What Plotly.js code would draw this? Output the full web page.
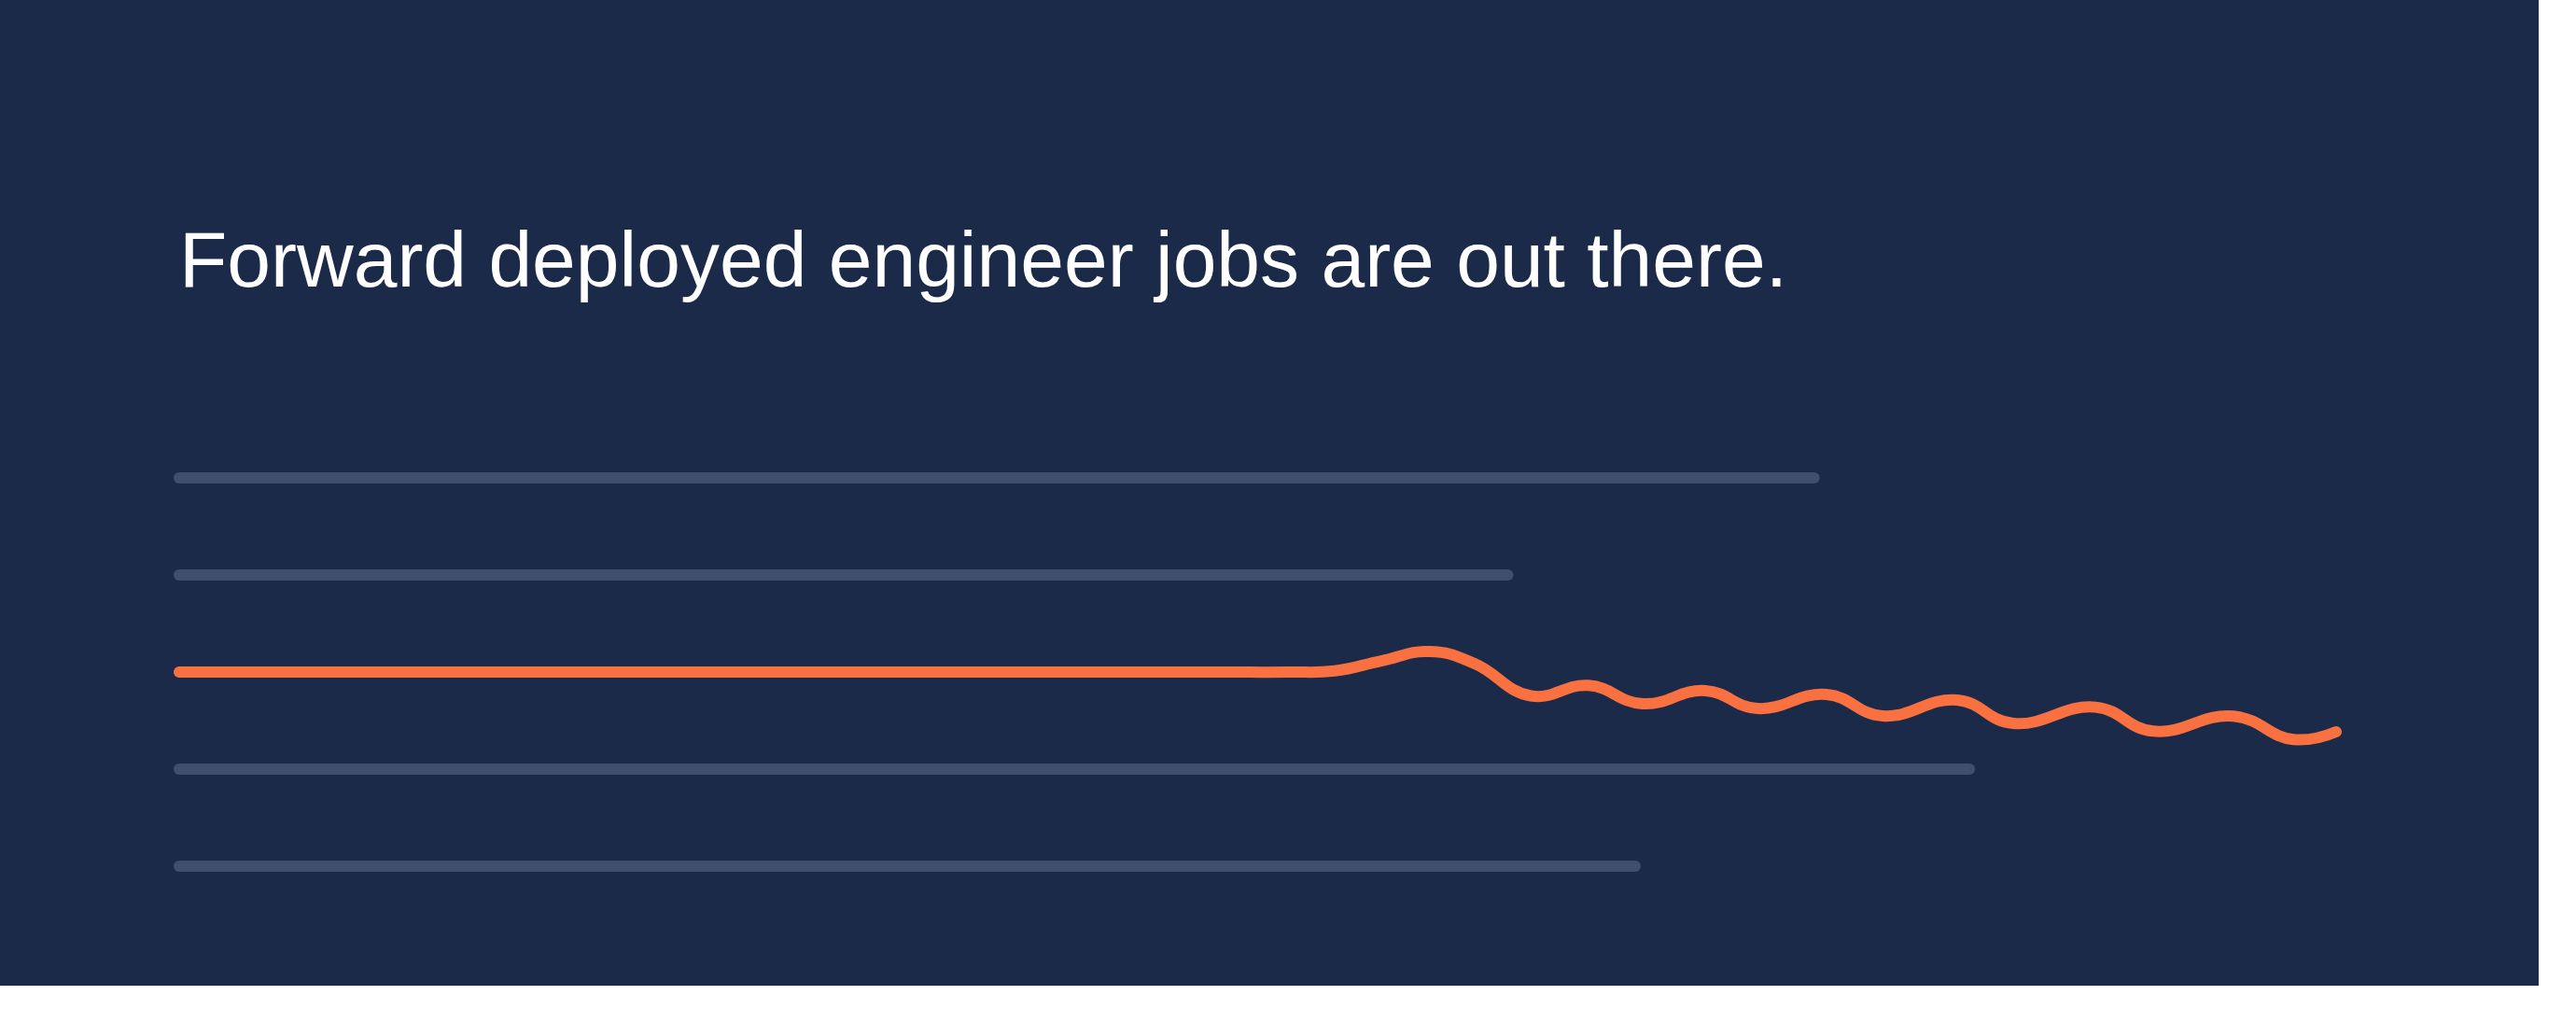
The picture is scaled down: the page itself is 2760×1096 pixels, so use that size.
<!DOCTYPE html>
<html>
<head>
<meta charset="utf-8">
<script src="https://cdn.plot.ly/plotly-3.0.1.min.js"></script>
<style>
  html, body { margin: 0; padding: 0; background: #ffffff; }
  #chart { width: 2720px; height: 1056px; }
  #chart .js-line { stroke-linecap: round !important; stroke-linejoin: round !important; }
</style>
</head>
<body>
<div id="chart"></div>
<script>
// ---- data ----
const titleText = "Forward deployed engineer jobs are out there.";

// grey placeholder rows (row position, length on 0-100 scale)
const grayRows    = [4, 3, 1, 0];
const grayLengths = [75.8, 61.6, 83.0, 67.5];

// highlighted orange series (flat run, then peaks and troughs)
const orangeX = [0, 34.96, 47.94, 51.41, 53.57, 55.73, 57.98, 60.06, 62.66,
                 65.34, 67.85, 70.75, 73.17, 76.37, 78.97, 82.43, 85.03, 88.84, 91.52,
                 95.24, 98.01, 100];
const orangeY = [2.0, 2.0, 2.0, 2.0, 2.0125, 2.115, 2.212, 2.087, 1.755,
                 1.862, 1.673, 1.808, 1.625, 1.769, 1.548, 1.712, 1.471, 1.638, 1.391,
                 1.545, 1.305, 1.385];

// ---- layout geometry ----
const W = 2720, H = 1056;
const m = {l: 120, r: 120, t: 420, b: 60};
const x0px = 192, x100px = 2503;            // pixel of x=0 and x=100
const k = (x100px - x0px) / 100;
const yRow0px = 928, rowStep = 104;          // pixel of y=0, pixels per unit
const xRange = [(m.l - x0px) / k, (W - m.r - x0px) / k];
const yRange = [(yRow0px - (H - m.b)) / rowStep, (yRow0px - m.t) / rowStep];

const gray = '#3f4f6c', orange = '#f97141', bg = '#1c2a4a';

const traces = grayRows.map((r, i) => ({
  type: 'scatter', mode: 'lines',
  x: [0, grayLengths[i]], y: [r, r],
  line: {color: gray, width: 12},
  hoverinfo: 'skip', showlegend: false
}));
traces.push({
  type: 'scatter', mode: 'lines',
  x: orangeX, y: orangeY,
  line: {color: orange, width: 12, shape: 'spline', smoothing: 1.3},
  hoverinfo: 'skip', showlegend: false
});

const axisCommon = {showgrid: false, zeroline: false, showticklabels: false, ticks: '', showline: false, fixedrange: true};

const layout = {
  width: W, height: H,
  paper_bgcolor: bg, plot_bgcolor: bg,
  margin: m,
  showlegend: false,
  title: {
    text: titleText,
    font: {family: 'Liberation Sans, Arial, Helvetica, sans-serif', size: 84, color: '#ffffff'},
    xref: 'paper', x: 0, xanchor: 'left',
    yref: 'container', y: 1 - 278 / H, yanchor: 'middle',
    pad: {l: (x0px - m.l), t: 0, b: 0, r: 0}
  },
  xaxis: Object.assign({range: xRange}, axisCommon),
  yaxis: Object.assign({range: yRange}, axisCommon)
};

Plotly.newPlot('chart', traces, layout, {staticPlot: true, displayModeBar: false});
</script>
</body>
</html>
